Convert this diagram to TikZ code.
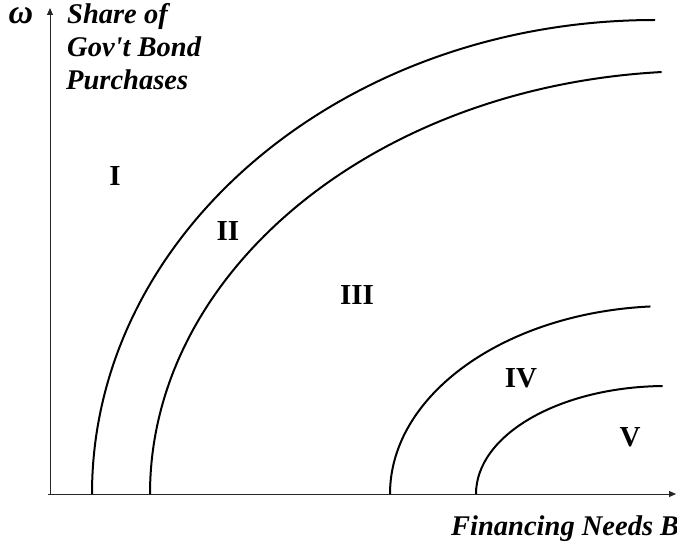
\documentclass[tikz,border=0pt]{standalone}
\usepackage{fontspec}
\setmainfont{Liberation Serif}
\usepackage{tikz}
\usetikzlibrary{arrows.meta}

\begin{document}
\begin{tikzpicture}[
    x=1pt, y=1pt,
    axis/.style={line width=1pt, black!85, -{Triangle[length=7pt, width=6pt]}},
    bound/.style={line width=2pt},
    zone/.style={font=\bfseries\fontsize{29}{31}\selectfont, inner sep=0pt},
    lab/.style={font=\bfseries\itshape\fontsize{28.5}{33}\selectfont, inner sep=0pt}
]
\useasboundingbox (0,0) rectangle (677,547);

% axes
\coordinate (o) at (50,53);
\coordinate (xo) at (48,53);
\coordinate (ytip) at (50,539);
\coordinate (xtip) at (676,53);
\draw[axis] (o) -- (ytip);
\draw[axis] (xo) -- (xtip);

\node[lab, font=\bfseries\itshape\fontsize{34}{34}\selectfont, anchor=base] (omega) at (21,523) {ω};
\node[lab, anchor=base west] (share) at (67,523) {Share of};
\node[lab, anchor=base west] (gov) at (67,490) {Gov\textquotesingle t Bond};
\node[lab, anchor=base west] (purch) at (66,457) {Purchases};
\node[lab, anchor=base west] (fin) at (451,12) {Financing Needs B};

% boundaries between the zones
\foreach \sx/\rx/\ry/\ea in {92/563/474/90, 150/550/423/94, 390/280/188/94, 476/190/108/91}
    \draw[bound] (\sx,53) arc[start angle=180, end angle=\ea, x radius=\rx, y radius=\ry];

\node[zone] (z1) at (115,371) {I};
\node[zone] (z2) at (228,316) {II};
\node[zone] (z3) at (357,252) {III};
\node[zone] (z4) at (521,169) {IV};
\node[zone] (z5) at (630,110) {V};
\end{tikzpicture}
\end{document}
